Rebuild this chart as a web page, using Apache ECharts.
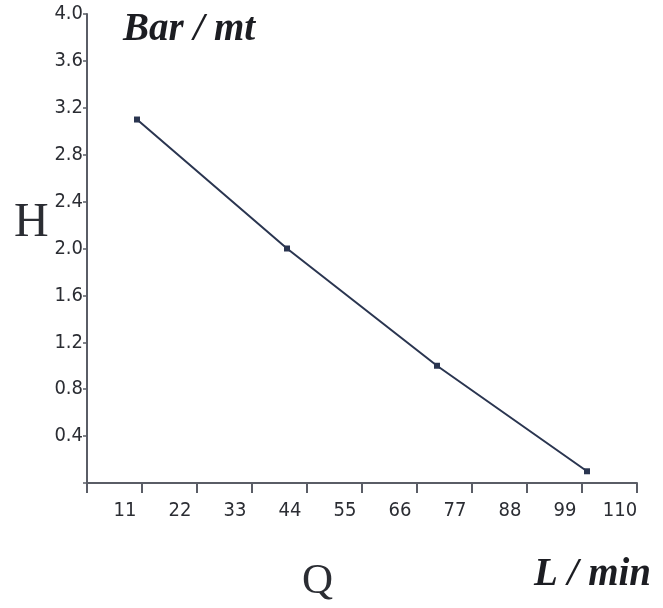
<!DOCTYPE html>
<html>
<head>
<meta charset="utf-8">
<script src="https://cdn.jsdelivr.net/npm/echarts@6/dist/echarts.min.js"></script>
<style>
html,body{margin:0;padding:0;background:#fff;}
#c{width:663px;height:608px;}
</style>
</head>
<body>
<div id="c"></div>
<script>
// Data
var flowQ = [10, 40, 70, 100];        // L/min
var headH = [3.1, 2.0, 1.0, 0.1];     // Bar / mt
var xTickLabels = ['', '11', '22', '33', '44', '55', '66', '77', '88', '99', '110'];
var yTickLabels = ['', '0.4', '0.8', '1.2', '1.6', '2.0', '2.4', '2.8', '3.2', '3.6', '4.0'];

var points = flowQ.map(function (q, i) { return [q, headH[i]]; });
var tickFont = '"Liberation Sans Narrow", "DejaVu Sans Condensed", sans-serif';
var axisColor = '#5a5d66';

var chart = echarts.init(document.getElementById('c'), null, {renderer: 'canvas'});
chart.setOption({
  backgroundColor: '#ffffff',
  animation: false,
  grid: {left: 87, right: 26, top: 14, bottom: 125, containLabel: false},
  xAxis: {
    type: 'value', min: 0, max: 110, interval: 11,
    axisLine: {show: true, lineStyle: {color: axisColor, width: 2}},
    axisTick: {show: true, length: 10, lineStyle: {color: axisColor, width: 2}},
    splitLine: {show: false},
    axisLabel: {
      color: '#2b2d33', fontFamily: tickFont, fontSize: 20, margin: 18,
      padding: [0, 34, 0, 0],
      formatter: function (v) { return xTickLabels[Math.round(v / 11)]; }
    }
  },
  yAxis: {
    type: 'value', min: 0, max: 4.0, interval: 0.4,
    axisLine: {show: true, lineStyle: {color: axisColor, width: 2}},
    axisTick: {show: true, length: 4, lineStyle: {color: axisColor, width: 1.5}},
    splitLine: {show: false},
    axisLabel: {
      color: '#2b2d33', fontFamily: tickFont, fontSize: 20, margin: 4,
      formatter: function (v) { return yTickLabels[Math.round(v / 0.4)]; }
    }
  },
  series: [{
    type: 'line',
    data: points,
    symbol: 'rect', symbolSize: 6,
    lineStyle: {color: '#2a3550', width: 2},
    itemStyle: {color: '#2a3550'}
  }],
  graphic: [
    {type: 'text', left: 123, top: 10,
     style: {text: 'Bar / mt', font: 'italic bold 39px "Liberation Serif", serif', fill: '#1c1d22'}},
    {type: 'text', left: 14, top: 199,
     style: {text: 'H', font: '48px "Liberation Serif", serif', fill: '#2b2d33'}},
    {type: 'text', left: 302, top: 560,
     style: {text: 'Q', font: '43px "Liberation Serif", serif', fill: '#2b2d33'}},
    {type: 'text', right: 12, top: 555,
     style: {text: 'L / min', font: 'italic bold 39px "Liberation Serif", serif', fill: '#1c1d22'}}
  ]
});
</script>
</body>
</html>
